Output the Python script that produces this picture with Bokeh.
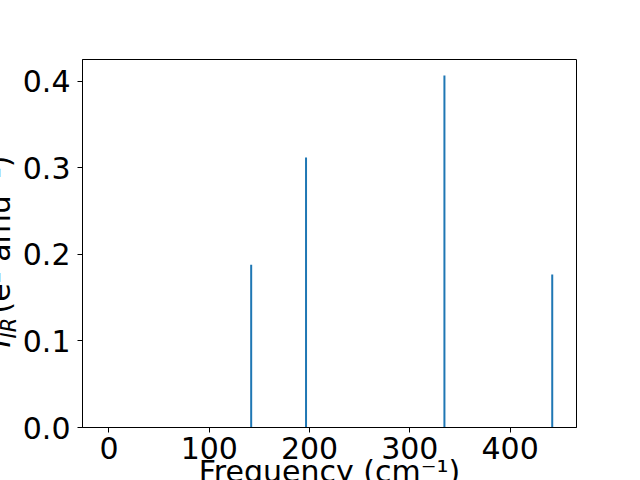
from bokeh.plotting import figure
from bokeh.models import FixedTicker, Range1d, Title
from bokeh.embed import file_html
from bokeh.resources import INLINE

# data
frequencies = [141.8, 196.5, 334.5, 442.0]
intensities = [0.188, 0.312, 0.407, 0.177]

x_ticks = [0, 100, 200, 300, 400]
y_ticks = [0.0, 0.1, 0.2, 0.3, 0.4]
y_tick_labels = ["0.0", "0.1", "0.2", "0.3", "0.4"]

FONT = "DejaVu Sans"
FS = "30px"

p = figure(width=640, height=480, output_backend="svg", toolbar_location=None,
           x_range=Range1d(-26.4, 466.2), y_range=Range1d(0, 0.4254),
           min_border_left=81, min_border_right=64, min_border_top=59, min_border_bottom=53)

p.segment(x0=frequencies, y0=[0] * len(frequencies), x1=frequencies, y1=intensities,
          line_color="#1f77b4", line_width=2)

p.xgrid.visible = False
p.ygrid.visible = False
p.outline_line_color = "black"
p.outline_line_alpha = 1.0
p.outline_line_width = 1
p.background_fill_color = "white"
p.border_fill_color = "white"

for ax in (p.xaxis, p.yaxis):
    ax.axis_line_color = "black"
    ax.major_tick_line_color = "black"
    ax.major_tick_out = 5
    ax.major_tick_in = 0
    ax.minor_tick_line_color = None
    ax.major_label_text_font = FONT
    ax.major_label_text_font_size = FS
    ax.major_label_text_color = "black"

p.xaxis.ticker = FixedTicker(ticks=x_ticks)
p.yaxis.ticker = FixedTicker(ticks=y_ticks)
p.yaxis.major_label_overrides = {t: l for t, l in zip(y_ticks, y_tick_labels)}
p.xaxis.major_label_standoff = 4
p.yaxis.major_label_standoff = 7

# x axis label, cut by the bottom edge as in the reference
p.add_layout(Title(text="Frequency (cm⁻¹)", align="center", vertical_align="bottom",
                   standoff=-20, text_font=FONT, text_font_size=FS,
                   text_font_style="normal", text_color="black"), "below")

# y axis label, cut by the left edge as in the reference (I_IR (e² amu⁻¹))
p.add_layout(Title(text="IR", align="left", vertical_align="top", offset=89,
                   standoff=-7.4, text_font=FONT, text_font_size="21px",
                   text_font_style="italic", text_color="black"), "left")
p.add_layout(Title(text="I", align="left", vertical_align="top", offset=80,
                   standoff=-37, text_font=FONT, text_font_size=FS,
                   text_font_style="italic", text_color="black"), "left")
p.add_layout(Title(text="(e² amu⁻¹)", align="left", vertical_align="top", offset=114,
                   standoff=-37, text_font=FONT, text_font_size=FS,
                   text_font_style="normal", text_color="black"), "left")

open("out.html", "w").write(file_html(p, INLINE))
